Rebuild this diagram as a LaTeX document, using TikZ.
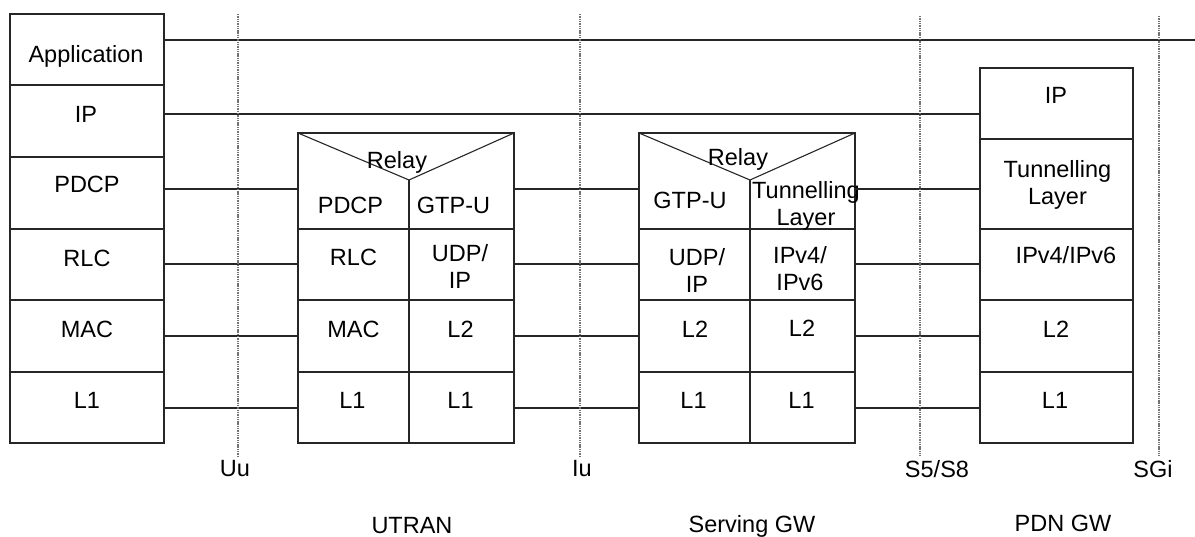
\documentclass[tikz,border=0pt]{standalone}
\usepackage{fontspec}
\setmainfont{Liberation Sans}
\begin{document}
\begin{tikzpicture}[x=1pt,y=-1pt,
  cell/.style={draw=black!85, line width=1.1pt, inner sep=0pt, outer sep=0pt},
  txt/.style={font=\fontsize{23.5}{27}\selectfont, inner sep=0pt, anchor=base, align=center},
  link/.style={draw=black!85, line width=1.1pt},
  refline/.style={draw=black!55, line width=2.6pt, dash pattern=on 1.4pt off 0.9pt}]
\useasboundingbox (0,0) rectangle (1195,536);
% reference y levels
\coordinate (yApp) at (0,40);
\coordinate (yIP) at (0,114);
\coordinate (yP) at (0,189);
\coordinate (yR) at (0,264);
\coordinate (yM) at (0,336);
\coordinate (yL) at (0,408);
% ---------- UE ----------
\node[cell, minimum width=154, minimum height=71] (ueApp) at (87,49.5) {};
\node[cell, minimum width=154, minimum height=72] (ueIP) at (87,121) {};
\node[cell, minimum width=154, minimum height=72] (uePDCP) at (87,193) {};
\node[cell, minimum width=154, minimum height=71] (ueRLC) at (87,264.5) {};
\node[cell, minimum width=154, minimum height=72] (ueMAC) at (87,336) {};
\node[cell, minimum width=154, minimum height=71] (ueL1) at (87,407.5) {};
\node[txt] (tueApp) at (86,62) {Application};
\node[txt] (tueIP) at (86,122) {IP};
\node[txt] (tuePDCP) at (87,192) {PDCP};
\node[txt] (tueRLC) at (87,266) {RLC};
\node[txt] (tueMAC) at (87,337) {MAC};
\node[txt] (tueL1) at (87,408) {L1};
% ---------- UTRAN ----------
\node[cell, minimum width=216, minimum height=96] (utop) at (406,181) {};
\node[cell, minimum width=111, minimum height=71] (uRLC) at (353.5,264.5) {};
\node[cell, minimum width=105, minimum height=71] (uUDP) at (461.5,264.5) {};
\node[cell, minimum width=111, minimum height=72] (uMAC) at (353.5,336) {};
\node[cell, minimum width=105, minimum height=72] (uL2) at (461.5,336) {};
\node[cell, minimum width=111, minimum height=71] (uL1a) at (353.5,407.5) {};
\node[cell, minimum width=105, minimum height=71] (uL1b) at (461.5,407.5) {};
\coordinate (uapex) at (409,180);
\coordinate (ubase) at (409,229);
\draw[link] (utop.north west) -- (uapex) -- (utop.north east);
\draw[link, line width=1.5pt] (uapex) -- (ubase);
\node[txt] (tuRelay) at (397,168) {Relay};
\node[txt] (tuPDCP) at (350.5,213) {PDCP};
\node[txt] (tuGTP) at (453.5,213) {GTP-U};
\node[txt] (tuRLC) at (353.5,265) {RLC};
\node[txt] (tuUDP) at (460,288) {UDP/\\IP};
\node[txt] (tuMAC) at (353.5,337) {MAC};
\node[txt] (tuL2) at (460.5,337) {L2};
\node[txt] (tuL1a) at (352.5,408) {L1};
\node[txt] (tuL1b) at (460.5,408) {L1};
% ---------- Serving GW ----------
\node[cell, minimum width=216, minimum height=96] (stop) at (747,181) {};
\node[cell, minimum width=111, minimum height=71] (sUDP) at (694.5,264.5) {};
\node[cell, minimum width=105, minimum height=71] (sIPv) at (802.5,264.5) {};
\node[cell, minimum width=111, minimum height=72] (sL2a) at (694.5,336) {};
\node[cell, minimum width=105, minimum height=72] (sL2b) at (802.5,336) {};
\node[cell, minimum width=111, minimum height=71] (sL1a) at (694.5,407.5) {};
\node[cell, minimum width=105, minimum height=71] (sL1b) at (802.5,407.5) {};
\coordinate (sapex) at (750,180);
\coordinate (sbase) at (750,229);
\draw[link] (stop.north west) -- (sapex) -- (stop.north east);
\draw[link] (sapex) -- (sbase);
\node[txt] (tsRelay) at (738,165) {Relay};
\node[txt] (tsGTP) at (690,208) {GTP-U};
\node[txt] (tsTun) at (806,225) {Tunnelling\\Layer};
\node[txt] (tsUDP) at (697,292) {UDP/\\IP};
\node[txt] (tsIPv) at (800,290) {IPv4/\\IPv6};
\node[txt] (tsL2a) at (695,337) {L2};
\node[txt] (tsL2b) at (802,336) {L2};
\node[txt] (tsL1a) at (693.5,408) {L1};
\node[txt] (tsL1b) at (801.5,408) {L1};
% ---------- PDN GW ----------
\node[cell, minimum width=153, minimum height=71] (pIP) at (1056.5,103.5) {};
\node[cell, minimum width=153, minimum height=90] (pTun) at (1056.5,184) {};
\node[cell, minimum width=153, minimum height=71] (pIPv) at (1056.5,264.5) {};
\node[cell, minimum width=153, minimum height=72] (pL2) at (1056.5,336) {};
\node[cell, minimum width=153, minimum height=71] (pL1) at (1056.5,407.5) {};
\node[txt] (tpIP) at (1056,103) {IP};
\node[txt] (tpTun) at (1057.5,204) {Tunnelling\\Layer};
\node[txt] (tpIPv) at (1066,263) {IPv4/IPv6};
\node[txt] (tpL2) at (1056,337) {L2};
\node[txt] (tpL1) at (1055,408) {L1};
% ---------- connectors ----------
\coordinate (appEnd) at (1195,40);
\draw[link] (ueApp.east |- yApp) -- (appEnd);
\draw[link] (ueIP.east |- yIP) -- (pIP.west |- yIP);
\draw[link] (uePDCP.east |- yP) -- (utop.west |- yP);
\draw[link] (ueRLC.east |- yR) -- (uRLC.west |- yR);
\draw[link] (ueMAC.east |- yM) -- (uMAC.west |- yM);
\draw[link] (ueL1.east |- yL) -- (uL1a.west |- yL);
\draw[link] (utop.east |- yP) -- (stop.west |- yP);
\draw[link] (uUDP.east |- yR) -- (sUDP.west |- yR);
\draw[link] (uL2.east |- yM) -- (sL2a.west |- yM);
\draw[link] (uL1b.east |- yL) -- (sL1a.west |- yL);
\draw[link] (stop.east |- yP) -- (pTun.west |- yP);
\draw[link] (sIPv.east |- yR) -- (pIPv.west |- yR);
\draw[link] (sL2b.east |- yM) -- (pL2.west |- yM);
\draw[link] (sL1b.east |- yL) -- (pL1.west |- yL);
% ---------- reference points ----------
\coordinate (uuTop) at (238,14);
\coordinate (uuBot) at (238,456);
\coordinate (iuTop) at (580,14);
\coordinate (iuBot) at (580,456);
\coordinate (s5Top) at (920,16);
\coordinate (s5Bot) at (920,456);
\coordinate (sgTop) at (1159,16);
\coordinate (sgBot) at (1159,456);
\draw[refline] (uuTop) -- (uuBot);
\draw[refline] (iuTop) -- (iuBot);
\draw[refline] (s5Top) -- (s5Bot);
\draw[refline] (sgTop) -- (sgBot);
\node[txt] (tUu) at (235,476) {Uu};
\node[txt] (tIu) at (582,476) {Iu};
\node[txt] (tS5) at (937,477) {S5/S8};
\node[txt] (tSGi) at (1153,477) {SGi};
\node[txt] (tUTRAN) at (412,533) {UTRAN};
\node[txt] (tSGW) at (752,532) {Serving GW};
\node[txt] (tPGW) at (1063,531) {PDN GW};
\end{tikzpicture}
\end{document}
